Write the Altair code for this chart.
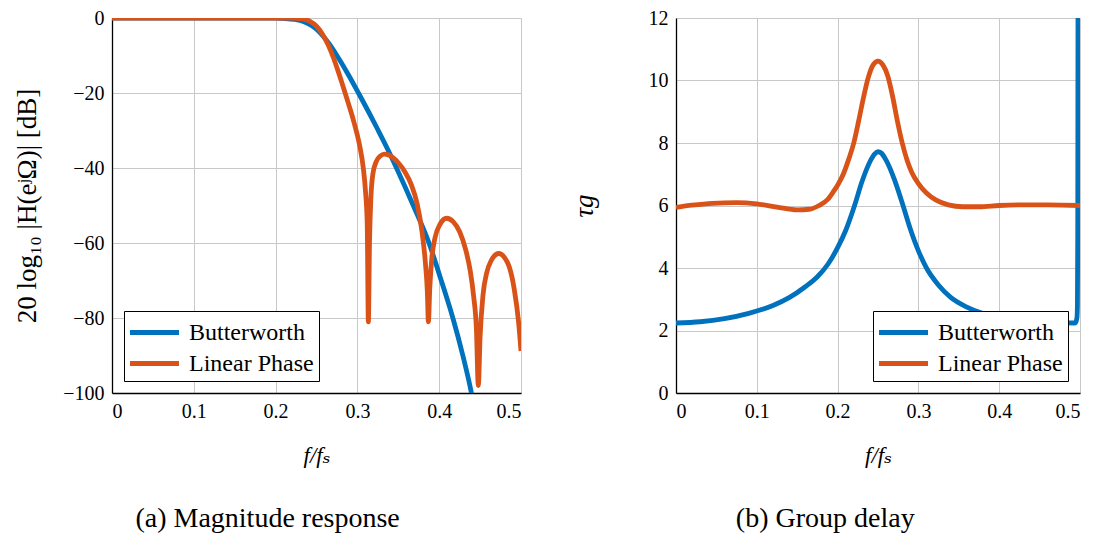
import altair as alt
import pandas as pd

series_names = ["Butterworth", "Linear Phase"]
series_colors = ["#0072BD", "#D95319"]

# (a) Magnitude response [dB] vs f/fs
bw_mag_x = [0, 0.1, 0.2, 0.2077, 0.2235, 0.2347, 0.2439, 0.25, 0.2587, 0.2658, 0.2749,
            0.2886, 0.3013, 0.3136, 0.3255, 0.337, 0.3478, 0.3683, 0.3875, 0.4025, 0.4167,
            0.4289, 0.4394, 0.442]
bw_mag_y = [0, 0, 0, -0.1, -0.4, -1.0, -2.0, -3.0, -5.0, -7.0, -10,
            -15, -20, -25, -30, -35, -40, -50, -60, -70, -80,
            -90, -100, -103]

lp_mag_x = [0, 0.1, 0.2, 0.22, 0.23, 0.236, 0.242, 0.25, 0.257, 0.2645, 0.27, 0.276,
            0.2805, 0.285, 0.29, 0.2935, 0.2963, 0.3, 0.3032, 0.3072, 0.31, 0.312,
            0.3134, 0.3148, 0.3165, 0.319, 0.323, 0.328, 0.333, 0.338, 0.342,
            0.35, 0.358, 0.366, 0.373, 0.379, 0.383, 0.3855, 0.3868, 0.3885, 0.391,
            0.395, 0.401, 0.409, 0.417, 0.425, 0.432, 0.438, 0.442, 0.4455, 0.4478,
            0.45, 0.4535, 0.458, 0.4633, 0.4727, 0.4837, 0.4918, 0.4971, 0.5]
lp_mag_y = [0, 0, 0, -0.02, -0.15, -0.4, -0.9, -2.2, -4.2, -7.3, -10.2, -13.9,
            -16.9, -20, -23.5, -26.0, -28.2, -31.3, -34.5, -40, -46.5, -55,
            -81, -60, -48, -41.5, -38.3, -36.8, -36.3, -36.5, -37.0,
            -38.6, -41, -44.5, -49.5, -57, -65, -73, -81, -72, -64,
            -58.5, -55, -53.4, -54.3, -57, -61.5, -67.5, -74, -83, -98,
            -85, -74, -68, -64.8, -62.8, -65.3, -72.4, -81.2, -88.8]

# (b) Group delay vs f/fs
bw_gd_x = [0, 0.03, 0.06, 0.09, 0.12, 0.14, 0.16, 0.175, 0.188, 0.2, 0.21, 0.221, 0.23,
           0.24, 0.246, 0.25, 0.254, 0.26, 0.27, 0.28, 0.29, 0.3, 0.31, 0.325, 0.34,
           0.36, 0.38, 0.41, 0.44, 0.47, 0.494, 0.4962, 0.4968, 0.4972, 0.4976]
bw_gd_y = [2.24, 2.28, 2.38, 2.55, 2.8, 3.05, 3.4, 3.72, 4.12, 4.65, 5.2, 6.0, 6.75,
           7.4, 7.65, 7.72, 7.68, 7.45, 6.85, 6.08, 5.25, 4.55, 4.0, 3.45, 3.06,
           2.75, 2.54, 2.38, 2.29, 2.25, 2.24, 2.4, 2.8, 5, 14]

lp_gd_x = [0, 0.02, 0.045, 0.075, 0.1, 0.125, 0.15, 0.165, 0.177, 0.188, 0.195, 0.2,
           0.207, 0.214, 0.22, 0.226, 0.232, 0.238, 0.244, 0.25, 0.256, 0.262, 0.268,
           0.274, 0.28, 0.286, 0.292, 0.3, 0.31, 0.322, 0.337, 0.355, 0.375, 0.4,
           0.43, 0.46, 0.5]
lp_gd_y = [5.94, 6.01, 6.07, 6.09, 6.05, 5.95, 5.86, 5.88, 6.0, 6.2, 6.45, 6.65,
           7.0, 7.5, 8.0, 8.7, 9.45, 10.1, 10.5, 10.62, 10.5, 10.15, 9.5,
           8.7, 8.0, 7.45, 7.05, 6.7, 6.4, 6.17, 6.02, 5.96, 5.96, 6.0,
           6.02, 6.02, 6.0]

x_ticks = [0, 0.1, 0.2, 0.3, 0.4, 0.5]
mag_ticks = [-100, -80, -60, -40, -20, 0]
gd_ticks = [0, 2, 4, 6, 8, 10, 12]

FONT = "Liberation Serif, Times New Roman, DejaVu Serif, serif"


def frame(xs_a, ys_a, xs_b, ys_b):
    rows = []
    for i, (x, y) in enumerate(zip(xs_a, ys_a)):
        rows.append({"x": x, "y": y, "series": series_names[0], "o": i})
    for i, (x, y) in enumerate(zip(xs_b, ys_b)):
        rows.append({"x": x, "y": y, "series": series_names[1], "o": i})
    return pd.DataFrame(rows)


mag_df = frame(bw_mag_x, bw_mag_y, lp_mag_x, lp_mag_y)
gd_df = frame(bw_gd_x, bw_gd_y, lp_gd_x, lp_gd_y)

color_scale = alt.Scale(domain=series_names, range=series_colors)

xaxis = alt.Axis(values=x_ticks, format="~g", title="f/fₛ", titleFontStyle="italic",
                 titleFontSize=23, titlePadding=23, labelPadding=8,
                 labelFont=FONT, titleFont=FONT)


def panel(df, ydomain, yticks, ytitle, ytitle_pad, ytitle_style, legend_orient, caption, w):
    legend = alt.Legend(title=None, orient=legend_orient, offset=12, labelFont=FONT)
    return alt.Chart(df).mark_line(strokeWidth=4.8, clip=True, interpolate="monotone").encode(
        x=alt.X("x:Q", scale=alt.Scale(domain=[0, 0.5], nice=False), axis=xaxis),
        y=alt.Y("y:Q", scale=alt.Scale(domain=ydomain, nice=False),
                axis=alt.Axis(values=yticks, title=ytitle, titlePadding=ytitle_pad,
                              titleFontStyle=ytitle_style, titleFontSize=27, labelPadding=8,
                              labelFont=FONT, titleFont=FONT)),
        color=alt.Color("series:N", scale=color_scale, legend=legend),
        order="o:Q",
    ).properties(
        width=w, height=375,
        title=alt.TitleParams(caption, orient="bottom", fontSize=28, font=FONT,
                              fontWeight="normal", offset=38, anchor="middle",
                              frame="bounds"),
    )


left = panel(mag_df, [-100, 0], mag_ticks, "20 log₁₀ |H(eʲΩ)| [dB]", 21, "normal",
             "bottom-left", "(a) Magnitude response", 409)
right = panel(gd_df, [0, 12], gd_ticks, "τg", 50, "italic",
              "bottom-right", "(b) Group delay", 404)

chart = alt.hconcat(left, right, spacing=48).resolve_scale(color="independent").properties(
    padding={"left": 5, "top": 0, "right": 0, "bottom": 0}
).configure(font=FONT).configure_view(strokeWidth=0).configure_axis(
    labelFont=FONT, titleFont=FONT, labelFontSize=20, labelColor="black", titleColor="black",
    titleFontWeight="normal", gridColor="#c8c8c8", gridWidth=1, gridOpacity=1,
    domainColor="black", domainWidth=1.3, tickSize=0,
).configure_legend(
    labelFont=FONT, labelFontSize=24, labelColor="black", symbolType="M-1.75,0L1.75,0",
    symbolStrokeWidth=5, symbolSize=784, symbolOffset=9, labelOffset=18,
    fillColor="white", strokeColor="black", padding=5, rowPadding=2,
)

chart.save("out.html", embed_options={"renderer": "svg", "actions": False})
